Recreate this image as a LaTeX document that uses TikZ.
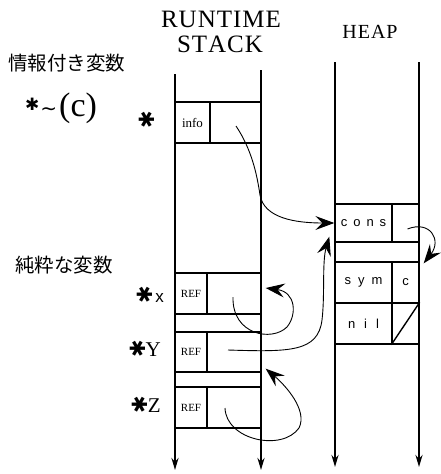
\documentclass[tikz,border=0pt]{standalone}
\usepackage{fontspec}
\setmainfont{Liberation Serif}
\newfontfamily\jpfont{Noto Sans CJK JP}
\newfontfamily\symfont{DejaVu Sans}
\newfontfamily\cellfont{Liberation Sans}
\usetikzlibrary{arrows.meta,calc}
\newcommand{\fsz}[1]{\fontsize{#1}{#1}\selectfont}
\newcommand{\hstar}{\rotatebox[origin=c]{90}{\symfont\fsz{21}✱}}
\begin{document}
\begin{tikzpicture}[x=1pt,y=-1pt,
  cell/.style={draw, line width=1.4pt, inner sep=0pt},
  lane/.style={line width=2pt, -{Stealth[length=12pt,width=7pt]}},
  link/.style={line width=0.9pt, -{Stealth[length=19pt,width=14pt,inset=7pt]}},
  lbl/.style={inner sep=0pt},
]
\path[use as bounding box] (0,0) rectangle (441,474);
% titles
\node[lbl, anchor=base] (rt) at (221,27) {\fsz{25}R\kern1pt U\kern1pt N\kern1pt T\kern1pt I\kern1pt M\kern1pt E};
\node[lbl, anchor=base] (st) at (220,52) {\fsz{25}S\kern1pt T\kern1pt A\kern1pt C\kern1pt K};
\node[lbl, anchor=base] (hp) at (370,38) {\fsz{20}H\kern1pt E\kern1pt A\kern1pt P};
% left labels
\node[lbl, anchor=west] (jp1) at (8,63) {\jpfont\fsz{19.5}情報付き変数};
\node[lbl, anchor=base west] (cv) at (25,116) {{\symfont\fsz{17}\raisebox{6pt}{✱}}\kern1pt{\symfont\fsz{20}\raisebox{1pt}{∼}}\kern2pt{\fsz{34}(c)}};
\node[lbl] (s0) at (147,120) {\hstar};
\node[lbl, anchor=west] (jp2) at (15,265) {\jpfont\fsz{19.5}純粋な変数};
\node[lbl, anchor=east] (vx) at (164,295) {\hstar\kern3pt{\cellfont\fsz{17}x}};
\node[lbl, anchor=east] (vy) at (161,349) {\hstar{\fsz{21}Y}};
\node[lbl, anchor=east] (vz) at (161,405) {\hstar{\fsz{21}Z}};
% lanes
\coordinate (sLt) at (175,74); \coordinate (sLb) at (175,470);
\coordinate (sRt) at (261,70); \coordinate (sRb) at (261,470);
\coordinate (hLt) at (335,62); \coordinate (hLb) at (335,467);
\coordinate (hRt) at (419,62); \coordinate (hRb) at (419,467);
\draw[lane] (sLt) -- (sLb);
\draw[lane] (sRt) -- (sRb);
\draw[lane] (hLt) -- (hLb);
\draw[lane] (hRt) -- (hRb);
% stack cells
\node[cell, minimum width=35pt, minimum height=41pt] (infoL) at (192.5,122.5) {\fsz{13}info};
\node[cell, minimum width=51pt, minimum height=41pt] (infoR) at (235.5,122.5) {};
\node[cell, minimum width=32pt, minimum height=41pt] (xL) at (191,293.5) {\fsz{11}REF};
\node[cell, minimum width=54pt, minimum height=41pt] (xR) at (234,293.5) {};
\node[cell, minimum width=32pt, minimum height=40pt] (yL) at (191,352) {\fsz{11}REF};
\node[cell, minimum width=54pt, minimum height=40pt] (yR) at (234,352) {};
\node[cell, minimum width=32pt, minimum height=41pt] (zL) at (191,407.5) {\fsz{11}REF};
\node[cell, minimum width=54pt, minimum height=41pt] (zR) at (234,407.5) {};
% heap cells
\node[cell, minimum width=57pt, minimum height=38pt] (consL) at (363.5,223) {\cellfont\fsz{13}c\hspace{6pt}o\hspace{6pt}n\hspace{6pt}s};
\node[cell, minimum width=27pt, minimum height=38pt] (consR) at (405.5,223) {};
\node[cell, minimum width=57pt, minimum height=41pt] (symL) at (363.5,282.5) {\cellfont\fsz{13}s\hspace{7pt}y\hspace{7pt}m};
\node[cell, minimum width=27pt, minimum height=41pt] (symR) at (405.5,282.5) {\cellfont\fsz{13}c};
\node[cell, minimum width=57pt, minimum height=41pt] (nilL) at (363.5,323.5) {\cellfont\fsz{13}n\hspace{9pt}i\hspace{9pt}l};
\node[cell, minimum width=27pt, minimum height=41pt] (nilR) at (405.5,323.5) {};
\draw[line width=1.4pt] (nilR.south west) -- (nilR.north east);
% connectors
\coordinate (k1) at (260,195);
\coordinate (k2) at (287,327);
\coordinate (k3) at (322,320);
\coordinate (k4) at (299,428);
\draw[link] ($(infoR.center)+(0.5,3.5)$) .. controls (252,150) and (257,175) .. (k1)
  .. controls (264,218) and (295,223) .. (consL.west);
\draw[link] ($(xR.center)+(-1,3.5)$) .. controls (232,335) and (272,342) .. (k2)
  .. controls (297,315) and (296,292) .. ($(xR.east)+(4,-5.5)$);
\draw[link] ($(yR.center)+(-6,-2)$) .. controls (290,352) and (318,352) .. (k3)
  .. controls (325,295) and (322,262) .. ($(consL.south west)+(-5,-6)$);
\draw[link] ($(zR.center)+(-9,0.5)$) .. controls (226,440) and (282,452) .. (k4)
  .. controls (308,410) and (285,385) .. ($(yR.south east)+(4,-4)$);
\draw[link] ($(consR.center)+(2,6)$) .. controls (430,220) and (442,240) .. ($(symR.north east)+(4,2)$);
\end{tikzpicture}
\end{document}
